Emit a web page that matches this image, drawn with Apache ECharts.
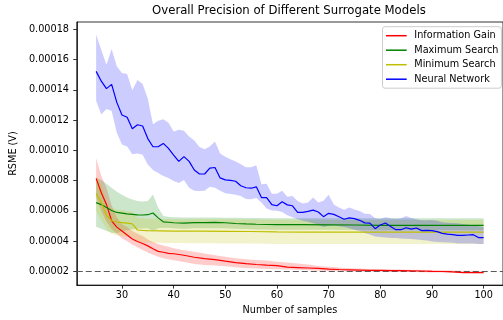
<!DOCTYPE html>
<html><head><meta charset="utf-8">
<script src="https://cdn.jsdelivr.net/npm/echarts@6/dist/echarts.min.js"></script>
<style>html,body{margin:0;padding:0;background:#fff}#c{width:503px;height:320px}</style>
</head><body><div id="c"></div>
<script>
// ---- data (RSME in volts) ----
const xTicks = [30, 40, 50, 60, 70, 80, 90, 100];
const yTicks = [2e-5, 4e-5, 6e-5, 8e-5, 10e-5, 12e-5, 14e-5, 16e-5, 18e-5];
const refLine = 2e-5;
const xRange = [21.25, 103.75];
const yRange = [1.10e-5, 18.48e-5];

const names = ['Information Gain', 'Maximum Search', 'Minimum Search', 'Neural Network'];

// Information Gain
const xIG = [25,26,27,28,29,30,31,32,33,34,35,36,37,38,39,40,42,44,46,48,50,52,54,56,58,60,62,64,66,68,70,72,74,76,78,80,82,84,86,88,90,92,94,96,98,100];
const igMean = [8.15e-5,7.2e-5,6.42e-5,5.35e-5,4.93e-5,4.67e-5,4.41e-5,4.15e-5,3.98e-5,3.85e-5,3.69e-5,3.50e-5,3.33e-5,3.27e-5,3.20e-5,3.17e-5,3.07e-5,2.94e-5,2.85e-5,2.78e-5,2.68e-5,2.59e-5,2.52e-5,2.46e-5,2.42e-5,2.39e-5,2.29e-5,2.26e-5,2.23e-5,2.20e-5,2.16e-5,2.13e-5,2.11e-5,2.09e-5,2.07e-5,2.07e-5,2.05e-5,2.05e-5,2.04e-5,2.03e-5,2.01e-5,2.00e-5,1.97e-5,1.93e-5,1.93e-5,1.92e-5];
const igUpper = [9.48e-5,8.31e-5,7.53e-5,6.36e-5,5.58e-5,5.12e-5,4.93e-5,4.67e-5,4.50e-5,4.34e-5,4.11e-5,3.95e-5,3.82e-5,3.72e-5,3.63e-5,3.53e-5,3.40e-5,3.30e-5,3.19e-5,3.08e-5,2.97e-5,2.88e-5,2.81e-5,2.76e-5,2.72e-5,2.65e-5,2.59e-5,2.52e-5,2.46e-5,2.36e-5,2.31e-5,2.26e-5,2.21e-5,2.20e-5,2.16e-5,2.15e-5,2.14e-5,2.13e-5,2.12e-5,2.11e-5,2.10e-5,2.08e-5,2.07e-5,2.05e-5,2.04e-5,2.03e-5];
const igLower = [6.9e-5,6.0e-5,5.3e-5,4.8e-5,4.5e-5,4.2e-5,4.0e-5,3.78e-5,3.6e-5,3.42e-5,3.25e-5,3.1e-5,2.98e-5,2.87e-5,2.8e-5,2.74e-5,2.62e-5,2.5e-5,2.42e-5,2.40e-5,2.35e-5,2.28e-5,2.22e-5,2.2e-5,2.17e-5,2.15e-5,2.13e-5,2.11e-5,2.08e-5,2.05e-5,2.03e-5,2.02e-5,2.0e-5,1.99e-5,1.98e-5,1.98e-5,1.97e-5,1.96e-5,1.96e-5,1.95e-5,1.94e-5,1.93e-5,1.91e-5,1.9e-5,1.89e-5,1.88e-5];

// Maximum Search
const xMax = [25,26,27,28,29,30,31,32,33,34,35,36,37,38,39,40,42,44,46,48,50,52,54,56,60,65,70,75,80,85,90,95,100];
const maxMean = [6.55e-5,6.42e-5,6.23e-5,6.03e-5,5.90e-5,5.86e-5,5.80e-5,5.77e-5,5.74e-5,5.73e-5,5.75e-5,5.86e-5,5.54e-5,5.28e-5,5.25e-5,5.22e-5,5.19e-5,5.23e-5,5.23e-5,5.24e-5,5.22e-5,5.17e-5,5.14e-5,5.12e-5,5.10e-5,5.09e-5,5.08e-5,5.07e-5,5.04e-5,5.04e-5,5.04e-5,5.04e-5,5.04e-5];
const maxUpper = [8.18e-5,8.05e-5,7.79e-5,7.53e-5,7.27e-5,7.07e-5,6.88e-5,6.75e-5,6.66e-5,6.62e-5,6.65e-5,7.09e-5,6.23e-5,5.67e-5,5.61e-5,5.58e-5,5.57e-5,5.57e-5,5.56e-5,5.56e-5,5.55e-5,5.55e-5,5.54e-5,5.53e-5,5.52e-5,5.52e-5,5.51e-5,5.51e-5,5.51e-5,5.51e-5,5.51e-5,5.51e-5,5.51e-5];
const maxLower = [4.95e-5,4.82e-5,4.68e-5,4.55e-5,4.53e-5,4.65e-5,4.72e-5,4.79e-5,4.82e-5,4.84e-5,4.85e-5,4.65e-5,4.85e-5,4.89e-5,4.89e-5,4.86e-5,4.83e-5,4.85e-5,4.86e-5,4.86e-5,4.85e-5,4.82e-5,4.80e-5,4.78e-5,4.76e-5,4.75e-5,4.75e-5,4.74e-5,4.72e-5,4.72e-5,4.72e-5,4.72e-5,4.72e-5];

// Minimum Search
const xMin = [25,26,27,28,29,30,31,32,33,34,35,40,45,50,55,60,65,70,75,80,85,90,95,100];
const minMean = [7.17e-5,6.55e-5,5.71e-5,5.35e-5,5.27e-5,5.23e-5,5.19e-5,5.14e-5,4.74e-5,4.71e-5,4.70e-5,4.67e-5,4.66e-5,4.65e-5,4.64e-5,4.61e-5,4.60e-5,4.60e-5,4.60e-5,4.60e-5,4.60e-5,4.60e-5,4.60e-5,4.60e-5];
const minUpper = [8.3e-5,7.7e-5,6.6e-5,6.2e-5,6.1e-5,6.05e-5,6.0e-5,5.95e-5,5.55e-5,5.5e-5,5.48e-5,5.45e-5,5.45e-5,5.45e-5,5.43e-5,5.42e-5,5.41e-5,5.4e-5,5.4e-5,5.4e-5,5.4e-5,5.4e-5,5.4e-5,5.4e-5];
const minLower = [6.0e-5,5.4e-5,4.8e-5,4.5e-5,4.4e-5,4.35e-5,4.3e-5,4.25e-5,3.95e-5,3.92e-5,3.9e-5,3.88e-5,3.87e-5,3.85e-5,3.84e-5,3.82e-5,3.82e-5,3.82e-5,3.82e-5,3.82e-5,3.82e-5,3.82e-5,3.82e-5,3.82e-5];

// Neural Network
const xNN = [25,26,27,28,29,30,31,32,33,34,35,36,37,38,39,40,41,42,43,44,45,46,47,48,49,50,51,52,53,54,55,56,57,58,59,60,61,62,63,64,65,66,67,68,69,70,71,72,73,74,75,76,77,78,79,80,81,82,83,84,85,86,87,88,89,90,91,92,93,94,95,96,97,98,99,100];
const nnMean = [15.22e-5,14.57e-5,14.08e-5,14.36e-5,13.17e-5,12.34e-5,12.19e-5,11.43e-5,11.69e-5,11.61e-5,10.78e-5,10.24e-5,10.24e-5,10.46e-5,10.13e-5,9.69e-5,9.27e-5,9.59e-5,9.27e-5,8.70e-5,8.44e-5,8.44e-5,8.83e-5,8.87e-5,8.18e-5,8.05e-5,8.02e-5,7.96e-5,7.66e-5,7.53e-5,7.50e-5,7.59e-5,6.88e-5,6.88e-5,6.42e-5,6.34e-5,6.60e-5,6.40e-5,6.34e-5,5.90e-5,5.90e-5,5.97e-5,6.05e-5,5.93e-5,5.62e-5,5.84e-5,5.77e-5,5.61e-5,5.45e-5,5.54e-5,5.49e-5,5.38e-5,5.21e-5,5.19e-5,4.83e-5,5.07e-5,5.20e-5,4.97e-5,4.76e-5,4.76e-5,4.89e-5,4.80e-5,4.87e-5,4.70e-5,4.72e-5,4.70e-5,4.63e-5,4.52e-5,4.47e-5,4.44e-5,4.39e-5,4.39e-5,4.41e-5,4.43e-5,4.24e-5,4.24e-5];
const nnUpper = [17.66e-5,16.63e-5,15.66e-5,16.70e-5,15.56e-5,15.11e-5,15.04e-5,13.97e-5,14.65e-5,14.39e-5,13.41e-5,11.72e-5,11.95e-5,12.05e-5,11.82e-5,11.24e-5,11.37e-5,11.30e-5,10.91e-5,10.65e-5,10.23e-5,10.07e-5,10.26e-5,10.59e-5,9.80e-5,9.58e-5,9.41e-5,9.27e-5,9.09e-5,8.89e-5,8.89e-5,9.02e-5,7.76e-5,7.79e-5,7.14e-5,7.14e-5,7.33e-5,6.94e-5,6.98e-5,6.65e-5,6.49e-5,6.55e-5,6.88e-5,6.55e-5,6.68e-5,7.07e-5,6.42e-5,6.23e-5,6.07e-5,6.23e-5,6.10e-5,6.00e-5,5.82e-5,5.80e-5,5.51e-5,5.48e-5,5.58e-5,5.51e-5,5.48e-5,5.51e-5,5.67e-5,5.54e-5,5.45e-5,5.38e-5,5.38e-5,5.40e-5,5.35e-5,5.25e-5,5.22e-5,5.21e-5,5.19e-5,5.14e-5,5.09e-5,5.04e-5,4.99e-5,4.93e-5];
const nnLower = [13.27e-5,12.37e-5,12.73e-5,12.60e-5,11.17e-5,10.39e-5,10.26e-5,9.74e-5,9.80e-5,9.71e-5,9.06e-5,8.70e-5,8.50e-5,8.31e-5,8.18e-5,7.98e-5,7.85e-5,8.05e-5,7.53e-5,7.33e-5,7.31e-5,7.33e-5,7.59e-5,7.53e-5,7.33e-5,7.17e-5,7.11e-5,7.07e-5,6.98e-5,6.78e-5,6.77e-5,6.85e-5,6.55e-5,6.16e-5,6.03e-5,6.01e-5,5.93e-5,5.71e-5,5.58e-5,5.45e-5,5.35e-5,5.28e-5,5.19e-5,5.09e-5,4.93e-5,5.02e-5,5.06e-5,4.99e-5,4.93e-5,4.86e-5,4.76e-5,4.67e-5,4.54e-5,4.44e-5,4.31e-5,4.28e-5,4.24e-5,4.21e-5,4.21e-5,4.18e-5,4.17e-5,4.15e-5,4.11e-5,4.08e-5,4.05e-5,3.98e-5,3.95e-5,3.93e-5,3.92e-5,3.89e-5,3.85e-5,3.84e-5,3.84e-5,3.84e-5,3.82e-5,3.82e-5];

// ---- build chart ----
const colors = ['#ff0000', '#008000', '#bfbf00', '#0000ff'];
const bandFills = ['rgba(255,0,0,0.2)', 'rgba(0,128,0,0.2)', 'rgba(191,191,0,0.2)', 'rgba(0,0,255,0.2)'];
const groups = [
  [xIG, igMean, igLower, igUpper],
  [xMax, maxMean, maxLower, maxUpper],
  [xMin, minMean, minLower, minUpper],
  [xNN, nnMean, nnLower, nnUpper]
];
const FONT = 'DejaVu Sans';
const series = [];
groups.forEach((g, k) => {
  const [x, m, lo, hi] = g;
  series.push({
    type: 'custom', name: 'band_' + k, silent: true, z: 1,
    data: [[x[0], lo[0]]],
    renderItem: (params, api) => {
      const pts = [];
      for (let i = 0; i < x.length; i++) pts.push(api.coord([x[i], hi[i]]));
      for (let i = x.length - 1; i >= 0; i--) pts.push(api.coord([x[i], lo[i]]));
      return { type: 'polygon', shape: { points: pts }, style: { fill: bandFills[k], stroke: null } };
    }
  });
});
// horizontal dashed reference line across the full axis width
series.push({
  type: 'line', name: 'ref', symbol: 'none', silent: true, z: 2,
  lineStyle: { color: '#5a5a5a', type: [6, 3], width: 1.2 },
  data: [[xRange[0], refLine], [xRange[1], refLine]]
});
groups.forEach((g, k) => {
  const [x, m] = g;
  series.push({
    type: 'line', name: names[k], symbol: 'none', z: 3,
    itemStyle: { color: colors[k] },
    lineStyle: { color: colors[k], width: 1.2 },
    data: x.map((v, i) => [v, m[i]])
  });
});

const chart = echarts.init(document.getElementById('c'), null, { renderer: 'canvas' });
chart.setOption({
  animation: false,
  backgroundColor: '#fff',
  textStyle: { fontFamily: FONT },
  title: {
    text: 'Overall Precision of Different Surrogate Models',
    left: 288.9, top: 4.7, textAlign: 'center', padding: 0,
    textStyle: { fontFamily: FONT, fontSize: 11.7, fontWeight: 'normal', color: '#000' }
  },
  legend: {
    data: names, orient: 'vertical', left: 382.5, top: 26.7,
    padding: [3, 3, 3, 3.5], itemGap: 2.5, itemWidth: 20.7, itemHeight: 1.5,
    icon: 'rect', borderColor: '#cccccc', borderWidth: 1, borderRadius: 2.5,
    backgroundColor: 'rgba(255,255,255,0.8)',
    textStyle: { fontFamily: FONT, fontSize: 9.7, color: '#000', lineHeight: 12, padding: [0, 0, 0, 2.6] }
  },
  grid: { left: 70.5, top: 22, width: 436.7, height: 266.5, show: true, borderColor: '#000', borderWidth: 0.8 },
  xAxis: {
    type: 'value', min: xRange[0], max: xRange[1],
    name: 'Number of samples', nameLocation: 'middle', nameGap: 18.5,
    nameTextStyle: { fontFamily: FONT, fontSize: 9.7, color: '#000' },
    axisLine: { show: true, lineStyle: { color: '#000', width: 0.8 } },
    axisTick: { show: true, inside: false, length: 3.5, lineStyle: { color: '#000', width: 0.8 }, customValues: xTicks },
    axisLabel: { fontFamily: FONT, fontSize: 9.7, color: '#000', margin: 5, customValues: xTicks },
    splitLine: { show: false }
  },
  yAxis: {
    type: 'value', min: yRange[0], max: yRange[1],
    name: 'RSME (V)', nameLocation: 'middle', nameGap: 51,
    nameTextStyle: { fontFamily: FONT, fontSize: 9.7, color: '#000' },
    axisLine: { show: true, lineStyle: { color: '#000', width: 0.8 } },
    axisTick: { show: true, inside: false, length: 3.5, lineStyle: { color: '#000', width: 0.8 }, customValues: yTicks },
    axisLabel: { fontFamily: FONT, fontSize: 9.7, color: '#000', margin: 7.8, customValues: yTicks,
      formatter: v => v.toFixed(5) },
    splitLine: { show: false }
  },
  series: series
});
</script>
</body></html>
